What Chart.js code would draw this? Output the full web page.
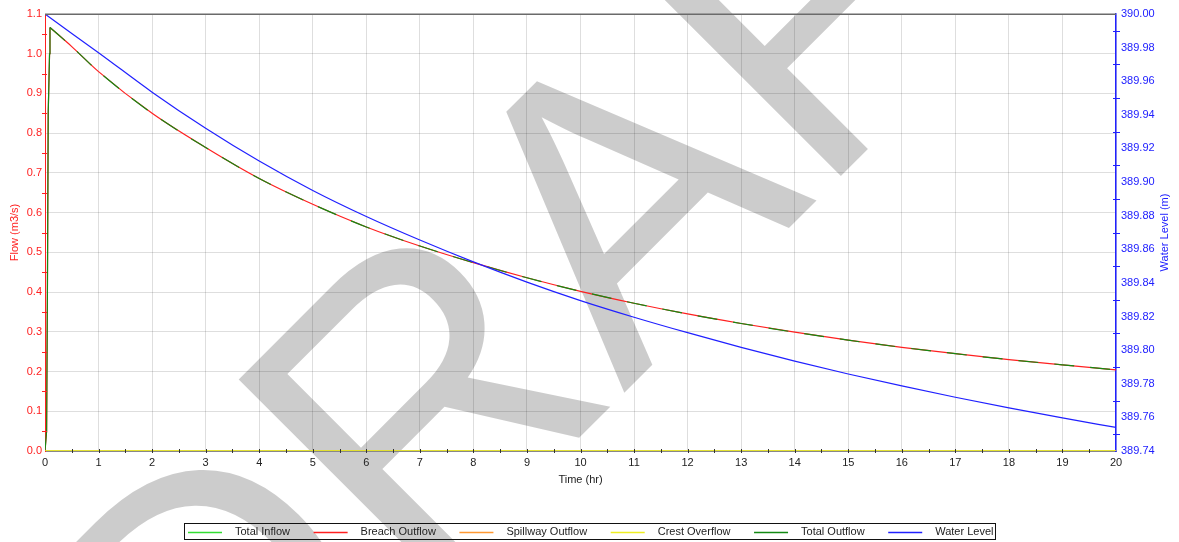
<!DOCTYPE html>
<html><head><meta charset="utf-8">
<script src="https://cdn.jsdelivr.net/npm/chart.js@4.4.0/dist/chart.umd.min.js"></script>
<style>html,body{margin:0;padding:0;background:#fff;overflow:hidden}canvas{display:block}</style>
</head><body>
<canvas id="c" width="1179" height="542"></canvas>
<script>
// ---- data ----
const seriesLabels = ['Total Inflow','Breach Outflow','Spillway Outflow','Crest Overflow','Total Outflow','Water Level'];
const seriesColors = ['#33dd33','#ff2020','#ff9933','#eeee22','#138a13','#2020ff'];

const flowTimes = [0,0.03,0.045,0.06,0.085,0.093,0.5,1,2,3,4,5,6,7,8,9,10,11,12,13,14,15,16,17,18,19,20];
const breachOutflow = [0,0.05,0.40,0.85,1.0,1.066,1.018,0.955,0.850,0.764,0.686,0.621,0.564,0.516,0.474,0.436,0.402,0.372,0.345,0.321,0.299,0.279,0.261,0.245,0.230,0.217,0.204];
const totalOutflow  = [0,0.05,0.40,0.85,1.0,1.066,1.018,0.955,0.850,0.764,0.686,0.621,0.564,0.516,0.474,0.436,0.402,0.372,0.345,0.321,0.299,0.279,0.261,0.245,0.230,0.217,0.204];
const peakIndex = 5; // rise before, recession after

const zeroTimes = [0,20];
const totalInflow = [0,0];
const spillwayOutflow = [0,0];
const crestOverflow = [0,0];

const levelTimes = [0,0.5,1,2,3,4,5,6,7,8,9,10,11,12,13,14,15,16,17,18,19,20];
const waterLevel = [390.000,389.9884,389.977,389.9535,389.932,389.9125,389.895,389.8795,389.8655,389.8525,389.8405,389.8295,389.8196,389.8104,389.8017,389.7935,389.7858,389.7787,389.772,389.7657,389.7597,389.754];

const flowTicks = {min:0, max:1.1, step:0.1};
const levelTicks = {min:389.74, max:390.00, step:0.02};
const timeTicks = {min:0, max:20, step:1};

const FONT = "'Liberation Sans', Arial, sans-serif";
const pts = (xs, ys, from, to) => xs.map((x,i)=>({x:x, y:ys[i]})).slice(from || 0, to);

const watermark = {
  id:'watermark',
  beforeDraw(chart){
    const c = chart.ctx; c.save();
    c.fillStyle = 'rgba(0,0,0,0.2)';
    c.font = '410px ' + FONT;
    c.textAlign = 'left'; c.textBaseline = 'alphabetic';
    c.translate(205, 812); c.rotate(-Math.PI/4);
    c.fillText('DRAFT', 0, 0);
    c.restore();
  }
};

const extras = {
  id:'extras',
  afterDatasetsDraw(chart){
    const c = chart.ctx, a = chart.chartArea;
    const x = chart.scales.x, y = chart.scales.y, y1 = chart.scales.y1;
    c.save();
    c.strokeStyle = '#6a6a6a'; c.lineWidth = 1.5;
    c.beginPath(); c.moveTo(a.left, a.top + 0.25); c.lineTo(a.right, a.top + 0.25); c.stroke();
    c.lineWidth = 1; c.strokeStyle = '#333';
    c.beginPath();
    for (let v = 0.5; v < timeTicks.max; v += 0.5) {
      const px = Math.round(x.getPixelForValue(v)) + 0.5;
      c.moveTo(px, a.bottom - 2); c.lineTo(px, a.bottom + 2);
    }
    c.stroke();
    c.strokeStyle = '#ff2020';
    c.beginPath();
    for (let v = flowTicks.step/2; v < flowTicks.max; v += flowTicks.step) {
      const py = Math.round(y.getPixelForValue(v)) + 0.5;
      c.moveTo(a.left - 3, py); c.lineTo(a.left + 2, py);
    }
    c.stroke();
    c.strokeStyle = '#2020ff';
    c.beginPath();
    for (let v = levelTicks.min + levelTicks.step/2; v < levelTicks.max; v += levelTicks.step) {
      const py = Math.round(y1.getPixelForValue(v)) + 0.5;
      c.moveTo(a.right - 3, py); c.lineTo(a.right + 4, py);
    }
    c.stroke();
    c.restore();
  },
  afterDraw(chart){
    const c = chart.ctx;
    c.save();
    c.fillStyle = '#2020ff'; c.font = '11px ' + FONT;
    c.textAlign = 'center'; c.textBaseline = 'middle';
    c.translate(1165, (chart.chartArea.top + chart.chartArea.bottom)/2);
    c.rotate(-Math.PI/2);
    c.fillText('Water Level (m)', 0, 0);
    c.restore();
    c.save();
    const boxL = 184, boxR = 995, boxT = 523.5, boxB = 539.5;
    c.strokeStyle = '#111'; c.lineWidth = 1;
    c.strokeRect(boxL + 0.5, boxT, boxR - boxL, boxB - boxT);
    c.font = '11px ' + FONT; c.textBaseline = 'middle'; c.textAlign = 'left';
    const lineLen = 34, gapText = 13;
    const widths = seriesLabels.map(s => c.measureText(s).width);
    const content = widths.reduce((s,w)=>s + lineLen + gapText + w, 0);
    const startX = boxL + 4, endX = boxR - 1.5;
    const gap = (endX - startX - content) / (seriesLabels.length - 1);
    let xx = startX; const yy = (boxT + boxB)/2;
    seriesLabels.forEach((s,i)=>{
      c.strokeStyle = seriesColors[i]; c.lineWidth = 1.5;
      c.beginPath(); c.moveTo(xx, Math.round(yy)+0.5); c.lineTo(xx + lineLen, Math.round(yy)+0.5); c.stroke();
      c.fillStyle = '#222';
      c.fillText(s, xx + lineLen + gapText, yy);
      xx += lineLen + gapText + widths[i] + gap;
    });
    c.restore();
  }
};

const common = {pointRadius:0, pointHoverRadius:0, borderWidth:1.2, fill:false};
const mk = (o) => Object.assign({}, common, o);

new Chart(document.getElementById('c'), {
  type:'line',
  data:{
    datasets:[
      mk({label:seriesLabels[3], data:pts(zeroTimes, crestOverflow), borderColor:seriesColors[3], yAxisID:'y', order:0, borderWidth:1.6}),
      mk({label:seriesLabels[4], data:pts(flowTimes, totalOutflow, 0, peakIndex+1), borderColor:seriesColors[4], yAxisID:'y', order:1, tension:0}),
      mk({label:seriesLabels[4], data:pts(flowTimes, totalOutflow, peakIndex), borderColor:seriesColors[4], yAxisID:'y', order:1, borderDash:[20,16], cubicInterpolationMode:'monotone'}),
      mk({label:seriesLabels[1], data:pts(flowTimes, breachOutflow, 0, peakIndex+1), borderColor:seriesColors[1], yAxisID:'y', order:2, tension:0}),
      mk({label:seriesLabels[1], data:pts(flowTimes, breachOutflow, peakIndex), borderColor:seriesColors[1], yAxisID:'y', order:2, cubicInterpolationMode:'monotone'}),
      mk({label:seriesLabels[2], data:pts(zeroTimes, spillwayOutflow), borderColor:seriesColors[2], yAxisID:'y', order:3}),
      mk({label:seriesLabels[0], data:pts(zeroTimes, totalInflow), borderColor:seriesColors[0], yAxisID:'y', order:4}),
      mk({label:seriesLabels[5], data:pts(levelTimes, waterLevel), borderColor:seriesColors[5], yAxisID:'y1', order:0, cubicInterpolationMode:'monotone'})
    ]
  },
  options:{
    responsive:false, animation:false, devicePixelRatio:1,
    layout:{padding:{top:14, left:0, right:0, bottom:0}},
    plugins:{legend:{display:false}, tooltip:{enabled:false}},
    events:[],
    scales:{
      x:{
        type:'linear', min:timeTicks.min, max:timeTicks.max,
        ticks:{stepSize:timeTicks.step, color:'#222', font:{family:FONT, size:11}, padding:5, maxRotation:0, autoSkip:false},
        grid:{color:'rgba(0,0,0,0.13)', drawTicks:false, lineWidth:1},
        border:{color:'#888', width:1},
        title:{display:true, text:'Time (hr)', color:'#222', font:{family:FONT, size:11}, padding:{top:0, bottom:55}},
        afterFit(s){ s.height = 91; }
      },
      y:{
        type:'linear', position:'left', min:flowTicks.min, max:flowTicks.max,
        ticks:{stepSize:flowTicks.step, color:'#ff2020', font:{family:FONT, size:11}, padding:3, callback:v=>Number(v).toFixed(1)},
        grid:{color:'rgba(0,0,0,0.13)', drawTicks:false, lineWidth:1},
        border:{color:'#ff2020', width:1},
        title:{display:true, text:'Flow (m3/s)', color:'#ff2020', font:{family:FONT, size:11}, padding:{top:8, bottom:0}},
        afterFit(s){ s.width = 45; }
      },
      y1:{
        type:'linear', position:'right', min:levelTicks.min, max:levelTicks.max,
        ticks:{stepSize:levelTicks.step, color:'#2020ff', font:{family:FONT, size:11}, padding:5, callback:v=>Number(v).toFixed(2)},
        grid:{display:false, drawTicks:false},
        border:{color:'#2020ff', width:1.5},
        afterFit(s){ s.width = 63; }
      }
    }
  },
  plugins:[watermark, extras]
});
</script>
</body></html>
